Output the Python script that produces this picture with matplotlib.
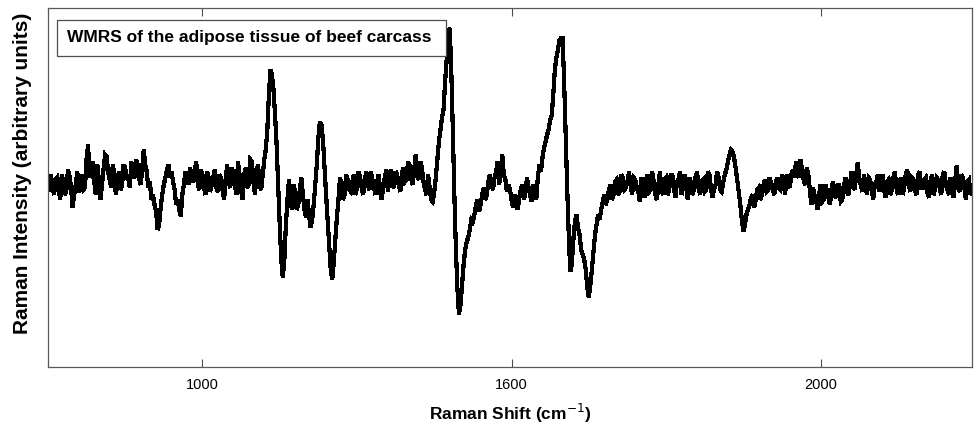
import numpy as np
import matplotlib
matplotlib.use("Agg")
import matplotlib.pyplot as plt
from matplotlib.patches import Rectangle

plt.rcParams['font.family'] = ['Liberation Sans', 'DejaVu Sans']

# WMRS intensity (arbitrary units), one value per 2.5 cm-1
intensity = [
    215, 208, 225, 212, 205, 220, 222, 210, 200, 225, 218, 205, 210, 230, 224, 212, 192, 205,
    215, 228, 207, 218, 225, 210, 212, 240, 255, 222, 230, 238, 218, 205, 235, 220, 200, 215,
    230, 245, 243, 228, 220, 212, 235, 225, 205, 218, 228, 210, 215, 235, 232, 220, 225, 212,
    238, 225, 222, 240, 236, 222, 215, 230, 250, 235, 228,
    212,
    218, 200, 205, 195, 188, 170, 175, 192, 205, 215, 222, 230, 235, 222, 228, 218, 210, 195,
    200, 190, 183, 205, 215, 228, 224, 215, 232, 222, 218, 228, 238, 215, 210, 230, 225, 212,
    205, 228, 222,
    208,
    215, 222, 230, 212, 208, 225, 222, 210, 200, 220, 235, 218, 212, 232, 228, 215, 205, 238,
    225, 210, 200, 225, 232, 212, 215, 240, 238, 218, 205, 228, 235, 215, 210, 225, 240,
    250,
    270, 305, 330, 325, 310, 285, 255, 215, 175, 140, 122, 140, 175, 200, 220, 198, 190, 215,
    208, 190, 195, 210, 222, 205, 190, 182, 200, 185, 172, 180, 195, 215, 235, 262, 278, 275,
    260, 232, 205, 180, 155, 130, 120, 138, 160, 182, 200, 222, 215, 200, 205, 225, 220, 210,
    208, 218, 225, 205, 212, 228, 222, 212, 205, 218, 228, 215, 210,
    228,
    220, 212, 205, 218, 225, 208, 200, 215, 222, 230, 208, 222, 230, 215, 212, 228, 225, 215,
    208, 225, 232, 218, 220, 238, 235, 222, 215, 230, 245, 225, 220, 238, 232, 218, 210, 205,
    225, 212, 200, 198, 208,
    222,
    240, 258, 270, 282, 290, 318, 340, 360, 372, 330, 270, 205, 150, 110, 85, 95, 115, 135,
    150, 158, 162, 170, 180, 178, 185, 195, 200, 188, 195, 205, 212, 200, 205, 218, 225, 215,
    210, 222, 228, 238, 215, 230, 245, 225, 220, 208, 215, 210, 200, 192, 205, 198, 190, 202,
    210, 215, 200, 208, 222, 212, 205, 198, 215, 208, 200,
    222,
    235, 228, 242, 252, 258, 265, 270, 280, 285, 305, 330, 342, 350, 360, 362, 362, 320, 265,
    212, 165, 128, 135, 160, 178, 185, 172, 165, 150, 145, 140, 130, 112, 102, 115, 130, 148,
    165, 175, 185, 180, 190,
    198,
    205, 195, 200, 210, 215, 200, 205, 218, 220, 205, 208, 225, 222, 210, 212, 218, 228, 215,
    205, 222, 220, 212, 208, 198, 222, 210, 202, 220, 225, 208, 210, 228, 218, 205, 200, 215,
    228, 210, 205, 220, 222, 205, 210, 225, 225, 212, 202, 218, 220, 228, 205, 212, 225, 215,
    200, 222, 218, 205, 210, 222, 228, 212, 205, 218, 220, 208, 210, 228, 225, 212, 202, 210,
    215, 228, 222, 210, 208, 218, 225,
    230,
    238, 245, 250, 248, 242, 232, 220, 208, 195, 180, 168, 175, 185, 190, 195, 202, 205, 192,
    200, 210, 212, 200, 205, 215, 220, 208, 210, 222, 215, 210, 205, 218, 222, 212, 210, 225,
    218, 205, 225,
    218,
    212, 225, 230, 222, 238, 230, 222, 240, 230, 220, 215, 232, 225, 210, 195, 212, 205, 200,
    190, 205, 215, 198, 200, 215, 210, 202, 195, 210, 218, 205, 202, 215, 215, 198, 200, 212,
    222, 208, 205,
    215,
    228, 215, 210, 225, 237, 220, 215, 208, 225, 215, 205, 222, 220, 210, 200, 215, 218, 225,
    208, 220, 225, 210, 202, 218, 220, 205, 210, 222, 228, 212, 205, 218, 222, 205, 212, 225,
    230, 215, 208, 222, 220, 210, 205, 225, 228, 212, 212, 220, 222, 208, 202, 218, 225, 205,
    210, 222, 220, 212, 205, 225, 228, 215, 210, 205, 222, 215, 202, 218, 234, 212, 208, 225,
    222, 212, 200, 218, 220, 205, 210,
]

# Raman shift (cm-1): start and step of the recorded grid
shift_start = 750
shift_step = 2.5
raman_shift = shift_start + shift_step * np.arange(len(intensity))

tick_pos = [1000, 1500, 2000]
tick_labels = ['1000', '1600', '2000']
title_text = 'WMRS of the adipose tissue of beef carcass'

fig = plt.figure(figsize=(9.77, 4.28), dpi=100)
ax = fig.add_axes([0.049, 0.142, 0.946, 0.839])

# drawn without antialiasing to keep the blocky, jagged look of the scan
ax.plot(raman_shift, intensity, color='black', linewidth=2.3, antialiased=False,
        solid_joinstyle='miter')

ax.set_xlim(750, 2245)
ax.set_ylim(32, 392)
ax.set_xticks(tick_pos)
ax.set_xticklabels(tick_labels, fontsize=10.5)
ax.set_yticks([])
ax.tick_params(axis='x', direction='in', length=6, top=True, width=0.8,
               color='0.3', pad=8)

for s in ax.spines.values():
    s.set_color('0.35')
    s.set_linewidth(0.9)

ax.set_xlabel('Raman Shift (cm$^{-1}$)', fontsize=12.5, fontweight='bold', labelpad=7)
ax.set_ylabel('Raman Intensity (arbitrary units)', fontsize=15, fontweight='bold')
ax.yaxis.set_label_coords(-0.017, 0.54)

# legend-like label box
ax.add_patch(Rectangle((0.0097, 0.868), 0.421, 0.098, transform=ax.transAxes,
                       facecolor='white', edgecolor='0.3', linewidth=0.9, zorder=3))
ax.text(0.021, 0.917, title_text, transform=ax.transAxes, fontsize=12.5,
        fontweight='bold', va='center', ha='left', zorder=4)

fig.savefig('out.png', dpi=100)
